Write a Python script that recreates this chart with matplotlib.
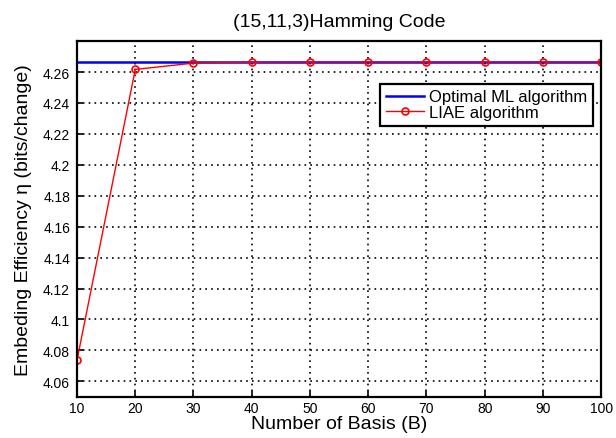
import matplotlib
matplotlib.use('Agg')
import matplotlib.pyplot as plt

plt.rcParams['font.family'] = ['Liberation Sans', 'DejaVu Sans']

# number of basis vectors
basis = [10, 20, 30, 40, 50, 60, 70, 80, 90, 100]
# embedding efficiency of the optimal ML decoder (4 / (1 - 2**-4))
optimal = [4.2667] * len(basis)
# embedding efficiency of the LIAE algorithm
liae = [4.0736, 4.2617, 4.2658, 4.2664, 4.2665, 4.2665, 4.2665, 4.2665, 4.2665, 4.2665]

fig = plt.figure(figsize=(6.16, 4.39), dpi=100)
ax = fig.add_axes([0.125, 0.094, 0.851, 0.810])

ax.plot(basis, optimal, color='blue', lw=1.8, label='Optimal ML algorithm')
ax.plot(basis, liae, color='red', lw=1.0, marker='o', markersize=5,
        markerfacecolor='none', markeredgecolor='red', markeredgewidth=1.2,
        label='LIAE algorithm')

ax.set_xlim(10, 100)
ax.set_ylim(4.05, 4.28)
ax.set_xticks(basis)
ax.set_yticks([4.06, 4.08, 4.1, 4.12, 4.14, 4.16, 4.18, 4.2, 4.22, 4.24, 4.26])
ax.set_yticklabels(['4.06', '4.08', '4.1', '4.12', '4.14', '4.16', '4.18', '4.2',
                    '4.22', '4.24', '4.26'])
ax.tick_params(direction='in', labelsize=10, length=4, width=1.2, pad=5)
ax.tick_params(axis='x', pad=3)
ax.grid(True, color='black', linestyle=(0, (1, 2.5)), linewidth=1.2)
for s in ax.spines.values():
    s.set_linewidth(1.6)

ax.set_title('(15,11,3)Hamming Code', fontsize=14, pad=11)
ax.set_xlabel('Number of Basis (B)', fontsize=14, labelpad=0)
ax.set_ylabel('Embeding Efficiency \u03b7 (bits/change)', fontsize=14, labelpad=8)

leg = ax.legend(loc='upper right', bbox_to_anchor=(0.99, 0.89), fontsize=12,
                fancybox=False, framealpha=1, edgecolor='black',
                borderpad=0.35, labelspacing=0.05, handlelength=2.3, handletextpad=0.25,
                borderaxespad=0.2)
leg.get_frame().set_linewidth(1.6)

fig.savefig('out.png', dpi=100)
